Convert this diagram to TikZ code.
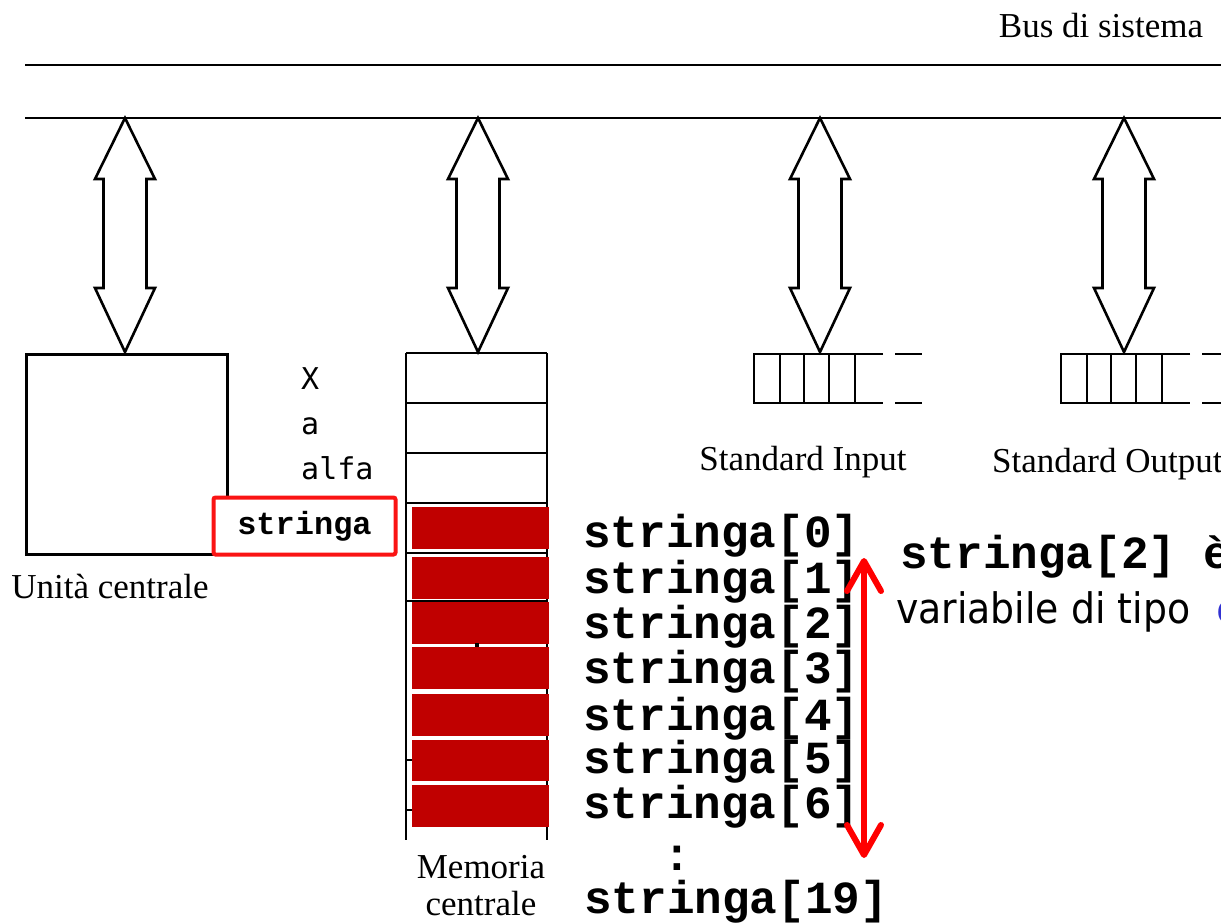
\documentclass[tikz,border=0pt]{standalone}
\usepackage{fontspec}
\setmainfont{Liberation Serif}
\setmonofont{Liberation Mono}
\newfontfamily\sansmono{DejaVu Sans Mono}
\newfontfamily\condsans[FakeStretch=0.9]{DejaVu Sans}
\usetikzlibrary{arrows.meta}
\definecolor{blockred}{RGB}{192,0,0}
\definecolor{boxred}{RGB}{250,20,20}
\definecolor{textblue}{RGB}{50,50,210}
\definecolor{arrred}{RGB}{255,0,0}
\newcommand\busarrow[1]{%
  \draw[arrowline] (#1,118) -- (#1+30,179) -- (#1+21.5,179) -- (#1+21.5,288) -- (#1+30,288) -- (#1,352)
    -- (#1-30,288) -- (#1-21.5,288) -- (#1-21.5,179) -- (#1-30,179) -- cycle;}
\begin{document}
\begin{tikzpicture}[x=1pt,y=-1pt,
  bline/.style={line width=2.8pt, draw=black},
  arrowline/.style={line width=2.6pt, draw=black, fill=white, line join=miter},
  serif/.style={font=\fontsize{35}{35}\selectfont, inner sep=0pt},
  var/.style={font=\sansmono\fontsize{30}{30}\selectfont, inner sep=0pt, anchor=base west},
  elem/.style={font=\ttfamily\bfseries\fontsize{46}{46}\selectfont, inner sep=0pt},
  condlbl/.style={font=\condsans\fontsize{42}{42}\selectfont, inner sep=0pt},
  redblock/.style={fill=blockred},
  redarrow/.style={draw=arrred, line width=6pt,
    {Straight Barb[length=30pt,width=34pt,round]}-{Straight Barb[length=30pt,width=34pt,round]}}
]
\useasboundingbox (0,0) rectangle (1221,922);
\clip (0,0) rectangle (1221,922);

% bus
\coordinate (busAl) at (25,65);  \coordinate (busAr) at (1230,65);
\coordinate (busBl) at (25,118); \coordinate (busBr) at (1230,118);
\draw[bline] (busAl) -- (busAr);
\draw[bline] (busBl) -- (busBr);
\node[serif, anchor=base] (bus) at (1101,37) {Bus di sistema};

% block arrows
\busarrow{125}
\busarrow{478}
\busarrow{820}
\busarrow{1124}

% CPU
\node[bline, minimum width=201, minimum height=200, inner sep=0pt, anchor=north west] (cpu) at (25,353) {};
\node[serif, anchor=base] (cpulbl) at (110,598) {Unità centrale};

% variables
\node[var] (vX) at (301,389) {X};
\node[var] (va) at (301,434) {a};
\node[var] (valfa) at (301,479) {alfa};
\node[draw=boxred, fill=white, line width=4pt, rounded corners=2pt, minimum width=182, minimum height=57, inner sep=0pt,
  font=\ttfamily\bfseries\fontsize{32}{32}\selectfont] (strbox) at (304.5,526) {stringa};

% memory
\draw[bline] (406,353) -- (406,840);
\draw[bline] (547,353) -- (547,840);
\foreach \yy in {353,403,453,503,553,601,760,810}
  \draw[bline] (406,\yy) -- (547,\yy);
\foreach \ya/\yb in {507/549,557/599,602/644,647/689,694/736,740/781,785/827}
  \fill[redblock] (412,\ya) rectangle (548.5,\yb);
\fill (474.5,643) rectangle (478.5,647);
\node[serif, anchor=base] (memlbl1) at (481,878) {Memoria};
\node[serif, anchor=base] (memlbl2) at (481,915) {centrale};

% element labels
\node[elem, anchor=base west] (s0) at (583,547) {stringa[0]};
\node[elem, anchor=base west] (s1) at (583,593) {stringa[1]};
\node[elem, anchor=base west] (s2) at (583,638) {stringa[2]};
\node[elem, anchor=base west] (s3) at (583,683) {stringa[3]};
\node[elem, anchor=base west] (s4) at (583,730) {stringa[4]};
\node[elem, anchor=base west] (s5) at (583,773) {stringa[5]};
\node[elem, anchor=base west] (s6) at (583,818) {stringa[6]};
\node[elem, anchor=base, text height=20pt, text depth=0pt] (dots) at (677,870) {:};
\node[elem, anchor=base west] (s19) at (584,913) {stringa[19]};

% red arrow
\coordinate (rtop) at (864,558);
\coordinate (rbot) at (864,858);
\draw[redarrow] (rtop) -- (rbot);

% right text
\node[elem, anchor=base west] (s2b) at (900,568) {stringa[2] è};
\node[condlbl, anchor=base west] (tipo) at (896,623) {variabile di tipo\hspace{26pt}\textcolor{textblue}{\ttfamily\bfseries char}};

% standard input buffer
\draw[bline] (883,354) -- (754,354) -- (754,403) -- (883,403);
\foreach \xx in {780,804,829,855} \draw[bline] (\xx,354) -- (\xx,403);
\draw[bline] (895,354) -- (922,354);
\draw[bline] (895,403) -- (922,403);
\node[serif, anchor=base] (inlbl) at (803,470) {Standard Input};

% standard output buffer
\draw[bline] (1190,354) -- (1061,354) -- (1061,403) -- (1190,403);
\foreach \xx in {1087,1111,1136,1162} \draw[bline] (\xx,354) -- (\xx,403);
\draw[bline] (1202,354) -- (1229,354);
\draw[bline] (1202,403) -- (1229,403);
\node[serif, anchor=base west] (outlbl) at (992,472) {Standard Output};
\end{tikzpicture}
\end{document}
